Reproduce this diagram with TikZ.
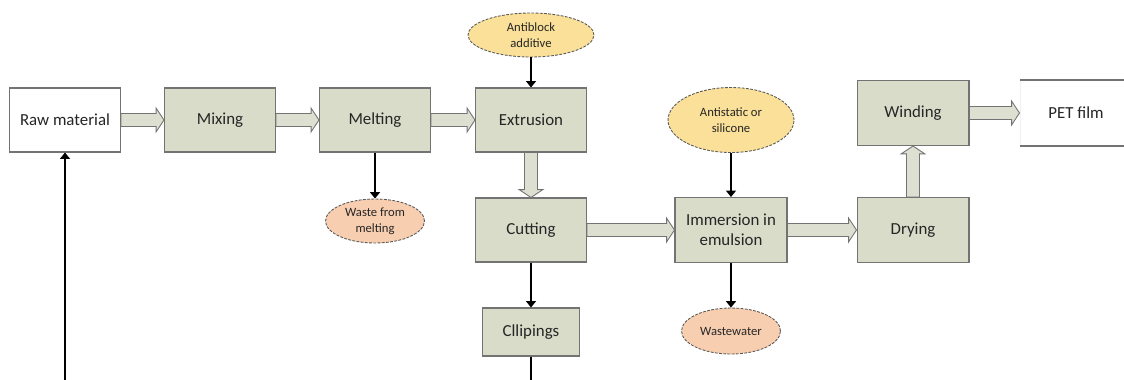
\documentclass[tikz,border=0pt]{standalone}
\usepackage{fontspec}
\setmainfont{Carlito}
\usetikzlibrary{calc, arrows.meta, shapes.geometric}

\definecolor{stepfill}{RGB}{217,220,201}
\definecolor{flowfill}{RGB}{221,224,208}
\definecolor{inputfill}{RGB}{250,224,152}
\definecolor{wastefill}{RGB}{248,206,176}
\definecolor{edgegray}{RGB}{115,115,115}

\newcommand{\shaftw}{3.7pt}
\newcommand{\headw}{6.8pt}
\newcommand{\headl}{4.5pt}

% wide process arrow, left to right
\newcommand{\fath}[2]{%
  \draw[fat] let \p1=(#1.east), \p2=(#2.west) in
    (\x1,\y1+\shaftw) -- (\x2-\headl,\y1+\shaftw) -- (\x2-\headl,\y1+\headw)
    -- (\x2,\y1) -- (\x2-\headl,\y1-\headw) -- (\x2-\headl,\y1-\shaftw)
    -- (\x1,\y1-\shaftw) -- cycle;}
% wide process arrow, up or down
\newcommand{\fatv}[2]{%
  \draw[fat] let \p1=(#1), \p2=(#2), \n1={(\y2-\y1)/abs(\y2-\y1)*\headl} in
    (\x1+\shaftw,\y1) -- (\x1+\shaftw,\y2-\n1) -- (\x1+\headw,\y2-\n1)
    -- (\x1,\y2) -- (\x1-\headw,\y2-\n1) -- (\x1-\shaftw,\y2-\n1)
    -- (\x1-\shaftw,\y1) -- cycle;}

\begin{document}
\begin{tikzpicture}[
    x=0.02cm, y=-0.02cm,
    every node/.style={text=black!85},
    stepbox/.style={draw=edgegray, fill=stepfill, line width=0.6pt,
        minimum width=2.22cm, minimum height=1.28cm, align=center,
        font=\fontsize{9.6}{11.3}\selectfont},
    endbox/.style={stepbox, fill=white},
    blob/.style={ellipse, draw=black!65, dashed, dash pattern=on 1.6pt off 0.8pt,
        line width=0.5pt, inner sep=0pt, align=center,
        font=\fontsize{7.2}{8.9}\selectfont},
    fat/.style={draw=edgegray, fill=flowfill, line width=0.5pt, line join=miter},
    thin/.style={draw=black, line width=0.8pt, -{Triangle[width=5.6pt,length=3.6pt]}}
  ]

  \useasboundingbox (0,0) rectangle (1124,379);
  \clip (0,0) rectangle (1124,379);

  % main line
  \node[endbox] (raw) at (65,120) {Raw material};
  \node[stepbox] (mix) at (220,120) {Mixing};
  \node[stepbox] (melt) at (375,120) {Melting};
  \node[stepbox] (extr) at (531,120) {Extrusion};
  \node[stepbox] (cut) at (531,230) {Cutting};
  \node[stepbox, minimum width=1.94cm, minimum height=0.96cm] (clip) at (531,332) {Cllipings};
  \node[stepbox, minimum width=2.24cm, minimum height=1.3cm] (imm) at (731,230) {Immersion in\\emulsion};
  \node[stepbox, minimum width=2.24cm, minimum height=1.3cm] (dry) at (913,230) {Drying};
  \node[stepbox, minimum width=2.24cm, minimum height=1.3cm] (wind) at (913,113) {Winding};
  \node[endbox, draw=black!6, minimum width=2.24cm, minimum height=1.3cm] (pet) at (1076,113) {PET film};
  \draw[edgegray, line width=0.6pt] (pet.north west) -- (pet.north east);
  \draw[edgegray, line width=0.6pt] (pet.south west) -- (pet.south east);

  % inputs and outputs
  \node[blob, fill=inputfill, minimum width=2.52cm, minimum height=0.88cm] (antib) at (531,35) {Antiblock\\additive};
  \node[blob, fill=inputfill, minimum width=2.52cm, minimum height=1.3cm] (antis) at (731,120) {Antistatic or\\silicone};
  \node[blob, fill=wastefill, minimum width=1.98cm, minimum height=0.88cm] (wmelt) at (375,221) {Waste from\\melting};
  \node[blob, fill=wastefill, minimum width=1.98cm, minimum height=0.92cm] (wwater) at (731,331) {Wastewater};

  % wide arrows
  \fath{raw}{mix}
  \fath{mix}{melt}
  \fath{melt}{extr}
  \fath{cut}{imm}
  \fath{imm}{dry}
  \fath{wind}{pet}
  \fatv{extr.south}{cut.north}
  \fatv{dry.north}{wind.south}

  % thin arrows
  \draw[thin] (antib) -- (extr);
  \draw[thin] (melt) -- (wmelt);
  \draw[thin] (cut) -- (clip);
  \draw[thin] (antis) -- (imm);
  \draw[thin] (imm) -- (wwater);
  \draw[thin] (clip.south) -- ++(0,60) -| (raw.south);

\end{tikzpicture}
\end{document}
